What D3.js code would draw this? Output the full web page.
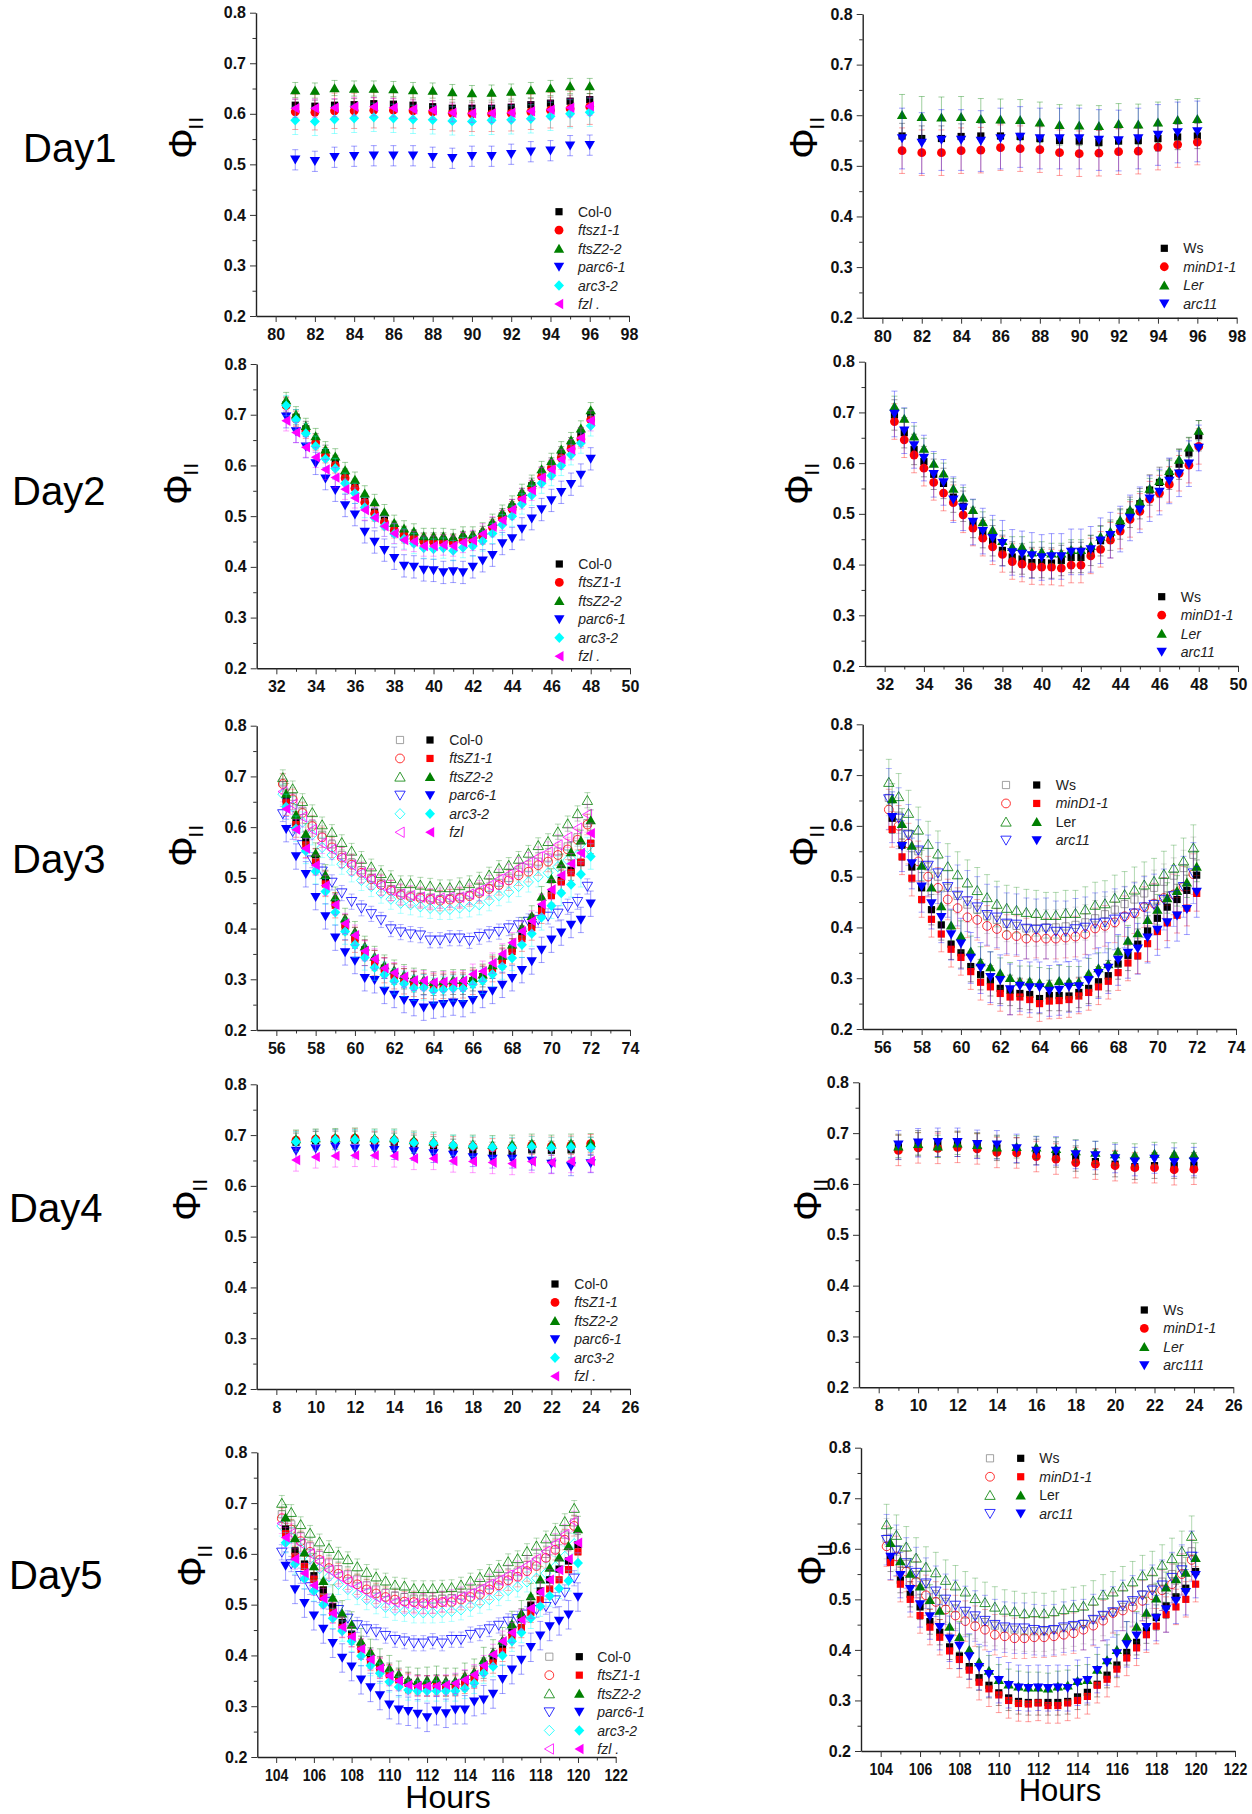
<!DOCTYPE html>
<html>
<head>
<meta charset="utf-8">
<script src="https://cdn.jsdelivr.net/npm/d3@7"></script>
<style>
  body { margin: 0; background: #ffffff; }
  svg text { font-family: Arial, "Liberation Sans", sans-serif; }
</style>
</head>
<body>
<svg id="fig" width="1252" height="1814"></svg>
<script>
// ---------------- Measurement times (hours) ----------------
const day1Hours = d3.range(81, 97);            // hourly, 81 … 96
const day2Hours = d3.range(32.5, 48.01, 0.5);  // half-hourly, 32.5 … 48
const day3Hours = d3.range(56.5, 72.01, 0.5);
const day4Hours = d3.range(9, 25);
const day5Hours = d3.range(104.5, 120.01, 0.5);
const day3OpenShift = -0.17;   // open-symbol run sampled slightly earlier
const day5OpenShift = -0.2;

// ---------------- Axis ranges / ticks ----------------
const yTicksMajor = [0.2, 0.3, 0.4, 0.5, 0.6, 0.7, 0.8];
const yTicksMinor = [0.25, 0.35, 0.45, 0.55, 0.65, 0.75];
const day1Range = [79, 98];
const day2Range = [31, 50];
const day3Range = [55, 74];
const day4Range = [7, 26];
const day5Range = [103, 122];

// ---------------- Day 1 ----------------
const d1Col0   = [0.617,0.615,0.617,0.618,0.620,0.619,0.617,0.614,0.611,0.611,0.611,0.613,0.618,0.621,0.625,0.628];
const d1FtsZ11 = [0.604,0.603,0.606,0.606,0.607,0.607,0.606,0.604,0.601,0.600,0.600,0.601,0.604,0.607,0.610,0.614];
const d1FtsZ22 = [0.647,0.646,0.651,0.650,0.650,0.649,0.647,0.646,0.643,0.641,0.642,0.644,0.647,0.651,0.655,0.655];
const d1Parc61 = [0.509,0.506,0.514,0.516,0.517,0.517,0.517,0.514,0.512,0.516,0.516,0.520,0.525,0.527,0.537,0.538];
const d1Arc32  = [0.587,0.585,0.589,0.591,0.593,0.591,0.589,0.588,0.586,0.585,0.587,0.588,0.590,0.595,0.600,0.603];
const d1Fzl    = [0.611,0.611,0.612,0.614,0.614,0.612,0.609,0.607,0.602,0.601,0.601,0.602,0.605,0.608,0.612,0.615];
const d1Ws     = [0.559,0.554,0.554,0.558,0.559,0.559,0.558,0.554,0.550,0.549,0.546,0.549,0.550,0.554,0.557,0.559];
const d1MinD11 = [0.530,0.526,0.526,0.530,0.531,0.536,0.534,0.532,0.526,0.524,0.525,0.528,0.529,0.537,0.542,0.547];
const d1Ler    = [0.601,0.597,0.596,0.597,0.593,0.592,0.591,0.586,0.581,0.580,0.579,0.583,0.582,0.586,0.591,0.593];
const d1Arc11  = [0.554,0.545,0.551,0.551,0.549,0.554,0.557,0.554,0.554,0.554,0.551,0.550,0.554,0.561,0.566,0.568];

// ---------------- Day 2 ----------------
const d2Col0   = [0.720,0.695,0.672,0.648,0.625,0.605,0.578,0.558,0.530,0.508,0.492,0.475,0.465,0.458,0.452,0.452,0.452,0.450,0.455,0.455,0.465,0.482,0.500,0.518,0.540,0.560,0.582,0.600,0.622,0.640,0.660,0.695];
const d2FtsZ11 = [0.718,0.692,0.668,0.645,0.620,0.600,0.575,0.555,0.527,0.505,0.488,0.472,0.462,0.456,0.450,0.449,0.449,0.448,0.452,0.452,0.460,0.478,0.496,0.514,0.535,0.555,0.578,0.595,0.615,0.633,0.652,0.690];
const d2FtsZ22 = [0.729,0.701,0.678,0.658,0.632,0.618,0.591,0.572,0.545,0.528,0.508,0.487,0.476,0.470,0.461,0.461,0.461,0.459,0.464,0.464,0.472,0.489,0.507,0.525,0.548,0.566,0.593,0.609,0.632,0.650,0.673,0.709];
const d2Parc61 = [0.696,0.667,0.637,0.604,0.574,0.551,0.521,0.503,0.469,0.449,0.433,0.417,0.402,0.400,0.394,0.393,0.389,0.391,0.389,0.400,0.412,0.423,0.446,0.456,0.475,0.495,0.513,0.531,0.547,0.563,0.581,0.613];
const d2Arc32  = [0.718,0.690,0.663,0.638,0.613,0.594,0.565,0.545,0.517,0.497,0.480,0.465,0.455,0.446,0.437,0.435,0.437,0.432,0.438,0.441,0.451,0.466,0.483,0.500,0.524,0.541,0.565,0.580,0.600,0.621,0.644,0.678];
const d2Fzl    = [0.688,0.665,0.636,0.616,0.592,0.576,0.553,0.536,0.512,0.497,0.480,0.466,0.453,0.450,0.441,0.441,0.443,0.441,0.448,0.452,0.465,0.479,0.492,0.513,0.534,0.551,0.576,0.592,0.612,0.631,0.654,0.688];
const d2Ws     = [0.695,0.660,0.627,0.603,0.578,0.560,0.533,0.515,0.483,0.463,0.447,0.428,0.415,0.411,0.404,0.404,0.403,0.408,0.414,0.414,0.428,0.447,0.458,0.480,0.503,0.520,0.547,0.562,0.578,0.598,0.620,0.654];
const d2MinD11 = [0.682,0.646,0.616,0.590,0.562,0.541,0.522,0.498,0.472,0.452,0.435,0.420,0.406,0.401,0.396,0.395,0.395,0.393,0.399,0.399,0.417,0.430,0.448,0.466,0.489,0.505,0.529,0.541,0.558,0.580,0.596,0.633];
const d2Ler    = [0.712,0.688,0.653,0.629,0.599,0.580,0.550,0.532,0.508,0.484,0.468,0.447,0.435,0.435,0.424,0.425,0.422,0.422,0.429,0.429,0.437,0.455,0.465,0.488,0.508,0.524,0.550,0.565,0.585,0.607,0.631,0.664];
const d2Arc11  = [0.697,0.664,0.635,0.610,0.578,0.562,0.528,0.512,0.484,0.466,0.452,0.442,0.424,0.421,0.418,0.414,0.416,0.416,0.425,0.425,0.430,0.447,0.458,0.470,0.492,0.508,0.530,0.543,0.565,0.579,0.599,0.630];

// ---------------- Day 3 (filled = one run, open = second run) ----------------
const d3Col0   = [0.655,0.610,0.572,0.538,0.495,0.450,0.408,0.382,0.358,0.337,0.322,0.310,0.301,0.295,0.290,0.288,0.289,0.290,0.290,0.297,0.305,0.322,0.340,0.360,0.385,0.408,0.440,0.470,0.495,0.515,0.530,0.568];
const d3FtsZ11 = [0.648,0.605,0.565,0.532,0.488,0.446,0.402,0.378,0.352,0.332,0.318,0.306,0.296,0.291,0.287,0.286,0.287,0.288,0.288,0.295,0.303,0.320,0.337,0.355,0.380,0.402,0.435,0.465,0.492,0.510,0.531,0.568];
const d3FtsZ22 = [0.666,0.625,0.587,0.549,0.506,0.462,0.420,0.394,0.365,0.345,0.328,0.318,0.309,0.302,0.299,0.295,0.297,0.299,0.299,0.303,0.310,0.328,0.347,0.369,0.402,0.425,0.463,0.498,0.527,0.551,0.574,0.614];
const d3Parc61 = [0.596,0.542,0.507,0.462,0.424,0.382,0.353,0.336,0.302,0.298,0.277,0.269,0.259,0.253,0.244,0.248,0.251,0.254,0.251,0.259,0.269,0.277,0.289,0.302,0.318,0.335,0.358,0.378,0.392,0.407,0.417,0.449];
const d3Arc32  = [0.640,0.597,0.553,0.513,0.473,0.432,0.394,0.368,0.343,0.323,0.309,0.296,0.291,0.283,0.284,0.278,0.280,0.282,0.282,0.290,0.297,0.310,0.325,0.342,0.368,0.390,0.422,0.445,0.470,0.487,0.507,0.542];
const d3Fzl    = [0.636,0.595,0.558,0.525,0.485,0.447,0.410,0.387,0.356,0.340,0.322,0.313,0.305,0.298,0.297,0.294,0.295,0.295,0.297,0.310,0.316,0.332,0.350,0.372,0.395,0.415,0.448,0.477,0.505,0.528,0.549,0.588];
const d3Col0Open   = [0.688,0.660,0.632,0.605,0.585,0.566,0.545,0.530,0.515,0.500,0.490,0.478,0.470,0.465,0.462,0.460,0.458,0.460,0.462,0.466,0.472,0.480,0.490,0.500,0.512,0.520,0.532,0.540,0.552,0.562,0.580,0.608];
const d3FtsZ11Open = [0.685,0.655,0.628,0.602,0.580,0.560,0.540,0.526,0.510,0.497,0.486,0.475,0.466,0.462,0.460,0.457,0.455,0.457,0.460,0.464,0.470,0.478,0.486,0.495,0.505,0.512,0.525,0.532,0.545,0.556,0.575,0.605];
const d3FtsZ22Open = [0.698,0.676,0.651,0.629,0.605,0.590,0.570,0.553,0.537,0.522,0.509,0.499,0.489,0.489,0.486,0.484,0.481,0.481,0.485,0.489,0.496,0.506,0.519,0.525,0.537,0.549,0.564,0.572,0.591,0.607,0.627,0.653];
const d3Parc61Open = [0.626,0.591,0.565,0.535,0.513,0.491,0.470,0.453,0.440,0.429,0.417,0.399,0.393,0.389,0.387,0.377,0.377,0.381,0.381,0.376,0.384,0.389,0.394,0.401,0.407,0.414,0.417,0.424,0.430,0.443,0.453,0.483];
const d3Arc32Open  = [0.665,0.640,0.610,0.585,0.560,0.545,0.527,0.512,0.495,0.483,0.470,0.458,0.450,0.447,0.443,0.440,0.438,0.438,0.441,0.443,0.447,0.455,0.465,0.472,0.483,0.492,0.502,0.510,0.522,0.535,0.545,0.560];
const d3FzlOpen    = [0.670,0.645,0.620,0.595,0.568,0.556,0.540,0.525,0.510,0.498,0.485,0.475,0.468,0.465,0.462,0.459,0.460,0.462,0.462,0.468,0.475,0.485,0.497,0.507,0.520,0.530,0.541,0.551,0.565,0.580,0.598,0.625];
const d3Ws     = [0.615,0.562,0.519,0.478,0.435,0.405,0.367,0.350,0.323,0.307,0.295,0.280,0.276,0.270,0.268,0.260,0.266,0.266,0.265,0.272,0.280,0.293,0.305,0.328,0.345,0.367,0.393,0.418,0.440,0.455,0.473,0.503];
const d3MinD11 = [0.593,0.539,0.497,0.455,0.416,0.387,0.357,0.341,0.313,0.292,0.283,0.270,0.263,0.263,0.258,0.250,0.255,0.256,0.258,0.265,0.272,0.283,0.294,0.311,0.330,0.344,0.368,0.392,0.409,0.424,0.438,0.467];
const d3Ler    = [0.653,0.604,0.561,0.522,0.479,0.442,0.404,0.383,0.353,0.332,0.322,0.310,0.301,0.294,0.294,0.291,0.289,0.295,0.293,0.293,0.309,0.320,0.328,0.353,0.374,0.389,0.415,0.435,0.458,0.472,0.489,0.520];
const d3Arc11  = [0.617,0.560,0.526,0.480,0.447,0.420,0.386,0.368,0.340,0.320,0.302,0.296,0.278,0.285,0.282,0.282,0.275,0.277,0.283,0.284,0.296,0.310,0.320,0.336,0.350,0.358,0.380,0.395,0.410,0.423,0.436,0.470];
const d3WsOpen     = [0.655,0.620,0.585,0.550,0.520,0.500,0.478,0.462,0.445,0.435,0.423,0.415,0.407,0.403,0.398,0.398,0.400,0.400,0.402,0.405,0.410,0.418,0.426,0.435,0.446,0.455,0.467,0.478,0.490,0.502,0.517,0.543];
const d3MinD11Open = [0.632,0.600,0.565,0.530,0.500,0.478,0.455,0.438,0.420,0.415,0.403,0.397,0.385,0.383,0.378,0.380,0.378,0.378,0.380,0.382,0.387,0.398,0.403,0.410,0.422,0.428,0.440,0.447,0.458,0.465,0.480,0.505];
const d3LerOpen    = [0.686,0.658,0.625,0.592,0.564,0.545,0.520,0.504,0.488,0.473,0.459,0.446,0.438,0.434,0.430,0.428,0.424,0.424,0.428,0.428,0.435,0.444,0.447,0.458,0.465,0.474,0.484,0.491,0.505,0.517,0.531,0.557];
const d3Arc11Open  = [0.653,0.615,0.582,0.552,0.522,0.507,0.480,0.463,0.452,0.440,0.425,0.420,0.408,0.406,0.398,0.396,0.398,0.392,0.392,0.397,0.400,0.408,0.410,0.416,0.420,0.428,0.440,0.445,0.455,0.462,0.480,0.507];

// ---------------- Day 4 ----------------
const d4Col0   = [0.686,0.689,0.690,0.690,0.688,0.686,0.682,0.679,0.674,0.670,0.668,0.668,0.671,0.670,0.671,0.678];
const d4FtsZ11 = [0.690,0.692,0.693,0.694,0.690,0.690,0.686,0.683,0.679,0.678,0.675,0.676,0.680,0.678,0.680,0.683];
const d4FtsZ22 = [0.692,0.694,0.695,0.696,0.694,0.694,0.690,0.688,0.682,0.682,0.681,0.682,0.684,0.682,0.684,0.685];
const d4Parc61 = [0.669,0.673,0.677,0.673,0.673,0.670,0.668,0.664,0.661,0.656,0.653,0.653,0.649,0.643,0.638,0.644];
const d4Arc32  = [0.687,0.690,0.691,0.691,0.690,0.690,0.685,0.684,0.680,0.678,0.676,0.675,0.677,0.675,0.676,0.675];
const d4Fzl    = [0.651,0.657,0.659,0.660,0.660,0.659,0.654,0.654,0.649,0.648,0.646,0.644,0.648,0.646,0.648,0.649];
const d4Ws     = [0.673,0.680,0.678,0.679,0.676,0.671,0.666,0.663,0.658,0.650,0.644,0.639,0.634,0.636,0.636,0.637];
const d4MinD11 = [0.666,0.671,0.670,0.672,0.669,0.662,0.661,0.654,0.649,0.642,0.639,0.636,0.632,0.632,0.628,0.629];
const d4Ler    = [0.674,0.679,0.674,0.680,0.677,0.672,0.673,0.672,0.669,0.665,0.662,0.659,0.657,0.660,0.659,0.658];
const d4Arc111 = [0.677,0.681,0.682,0.682,0.678,0.677,0.670,0.665,0.665,0.658,0.656,0.650,0.644,0.649,0.643,0.644];

// ---------------- Day 5 ----------------
const d5Col0   = [0.649,0.606,0.580,0.557,0.529,0.496,0.465,0.442,0.418,0.395,0.378,0.365,0.355,0.347,0.342,0.340,0.342,0.340,0.343,0.350,0.359,0.375,0.394,0.420,0.446,0.472,0.499,0.527,0.549,0.570,0.586,0.618];
const d5FtsZ11 = [0.640,0.595,0.575,0.550,0.515,0.485,0.455,0.437,0.412,0.390,0.375,0.362,0.352,0.345,0.340,0.340,0.340,0.340,0.340,0.345,0.355,0.370,0.385,0.408,0.435,0.455,0.485,0.510,0.531,0.549,0.569,0.604];
const d5FtsZ22 = [0.672,0.631,0.603,0.576,0.547,0.514,0.483,0.461,0.428,0.407,0.388,0.375,0.364,0.352,0.350,0.352,0.354,0.350,0.350,0.360,0.368,0.391,0.406,0.430,0.462,0.483,0.517,0.550,0.573,0.593,0.616,0.649];
const d5Parc61 = [0.576,0.530,0.503,0.478,0.452,0.424,0.395,0.378,0.352,0.337,0.321,0.303,0.293,0.290,0.285,0.278,0.291,0.286,0.293,0.293,0.309,0.313,0.324,0.353,0.372,0.391,0.416,0.439,0.457,0.468,0.480,0.515];
const d5Arc32  = [0.622,0.580,0.551,0.527,0.500,0.473,0.448,0.428,0.399,0.380,0.365,0.348,0.338,0.332,0.330,0.330,0.330,0.330,0.330,0.335,0.345,0.365,0.378,0.400,0.428,0.445,0.473,0.497,0.517,0.532,0.547,0.582];
const d5Fzl    = [0.632,0.590,0.562,0.538,0.512,0.483,0.456,0.437,0.413,0.392,0.375,0.360,0.350,0.342,0.340,0.340,0.340,0.342,0.345,0.352,0.362,0.380,0.402,0.428,0.445,0.470,0.493,0.525,0.549,0.568,0.590,0.622];
const d5Col0Open   = [0.678,0.658,0.635,0.615,0.598,0.583,0.570,0.560,0.550,0.538,0.530,0.523,0.518,0.515,0.512,0.512,0.510,0.512,0.513,0.518,0.523,0.530,0.538,0.548,0.556,0.565,0.578,0.585,0.600,0.618,0.638,0.662];
const d5FtsZ11Open = [0.670,0.648,0.625,0.604,0.588,0.572,0.561,0.550,0.540,0.530,0.522,0.515,0.510,0.506,0.505,0.503,0.503,0.505,0.505,0.510,0.515,0.520,0.530,0.538,0.548,0.555,0.566,0.576,0.592,0.608,0.628,0.655];
const d5FtsZ22Open = [0.700,0.682,0.658,0.641,0.624,0.611,0.598,0.589,0.575,0.564,0.555,0.547,0.539,0.537,0.532,0.532,0.532,0.533,0.534,0.539,0.547,0.554,0.564,0.572,0.585,0.591,0.605,0.616,0.630,0.645,0.664,0.690];
const d5Parc61Open = [0.603,0.580,0.557,0.535,0.519,0.506,0.490,0.473,0.460,0.452,0.446,0.439,0.431,0.428,0.424,0.424,0.428,0.424,0.431,0.431,0.441,0.444,0.452,0.459,0.467,0.472,0.481,0.490,0.496,0.509,0.524,0.552];
const d5Arc32Open  = [0.655,0.632,0.610,0.590,0.571,0.555,0.540,0.530,0.520,0.510,0.502,0.495,0.489,0.487,0.484,0.484,0.484,0.485,0.487,0.490,0.497,0.503,0.510,0.518,0.528,0.535,0.545,0.552,0.562,0.575,0.595,0.620];
const d5FzlOpen    = [0.660,0.640,0.620,0.600,0.585,0.568,0.556,0.545,0.535,0.525,0.515,0.510,0.505,0.503,0.502,0.502,0.503,0.506,0.510,0.515,0.522,0.530,0.540,0.548,0.558,0.566,0.577,0.590,0.605,0.620,0.638,0.664];
const d5Ws     = [0.580,0.538,0.510,0.485,0.456,0.435,0.406,0.388,0.367,0.345,0.330,0.315,0.305,0.298,0.296,0.296,0.296,0.296,0.298,0.307,0.316,0.332,0.350,0.370,0.395,0.415,0.438,0.464,0.487,0.505,0.522,0.555];
const d5MinD11 = [0.573,0.530,0.500,0.468,0.445,0.425,0.398,0.381,0.360,0.336,0.323,0.311,0.300,0.294,0.293,0.295,0.290,0.290,0.295,0.300,0.308,0.330,0.342,0.362,0.384,0.404,0.430,0.447,0.470,0.485,0.500,0.530];
const d5Ler    = [0.612,0.576,0.551,0.526,0.499,0.478,0.446,0.426,0.400,0.376,0.359,0.341,0.332,0.328,0.326,0.326,0.324,0.328,0.330,0.339,0.341,0.361,0.380,0.400,0.426,0.446,0.474,0.502,0.524,0.540,0.553,0.582];
const d5Arc11  = [0.584,0.548,0.520,0.490,0.466,0.445,0.422,0.408,0.387,0.366,0.352,0.340,0.330,0.325,0.324,0.325,0.324,0.325,0.324,0.335,0.340,0.360,0.375,0.393,0.411,0.428,0.445,0.463,0.480,0.497,0.514,0.548];
const d5WsOpen     = [0.620,0.598,0.570,0.548,0.530,0.510,0.495,0.482,0.470,0.462,0.455,0.448,0.442,0.440,0.437,0.437,0.437,0.440,0.443,0.447,0.452,0.460,0.468,0.475,0.485,0.495,0.510,0.522,0.535,0.550,0.565,0.595];
const d5MinD11Open = [0.605,0.585,0.555,0.535,0.508,0.495,0.480,0.468,0.457,0.447,0.440,0.430,0.427,0.423,0.423,0.425,0.425,0.427,0.430,0.433,0.440,0.448,0.458,0.473,0.478,0.485,0.497,0.508,0.518,0.530,0.550,0.578];
const d5LerOpen    = [0.648,0.627,0.604,0.582,0.564,0.553,0.538,0.527,0.515,0.502,0.494,0.485,0.479,0.476,0.472,0.474,0.472,0.476,0.480,0.484,0.487,0.497,0.509,0.515,0.525,0.535,0.547,0.555,0.568,0.581,0.595,0.625];
const d5Arc11Open  = [0.618,0.597,0.572,0.553,0.532,0.516,0.500,0.488,0.476,0.467,0.458,0.450,0.445,0.443,0.443,0.440,0.438,0.440,0.445,0.448,0.450,0.460,0.468,0.475,0.488,0.497,0.508,0.518,0.528,0.543,0.558,0.585];

// ---------------- Legend labels ----------------
const labelsD1Left  = ["Col-0", "ftsz1-1", "ftsZ2-2", "parc6-1", "arc3-2", "fzl ."];
const labelsLeft    = ["Col-0", "ftsZ1-1", "ftsZ2-2", "parc6-1", "arc3-2", "fzl ."];
const labelsD3Left  = ["Col-0", "ftsZ1-1", "ftsZ2-2", "parc6-1", "arc3-2", "fzl"];
const labelsRight   = ["Ws", "minD1-1", "Ler", "arc11"];
const labelsD4Right = ["Ws", "minD1-1", "Ler", "arc111"];
const dayLabels     = ["Day1", "Day2", "Day3", "Day4", "Day5"];

// ---------------- Styles ----------------
const C = { black: "#000000", red: "#ff0000", green: "#008000", blue: "#0000ff",
            cyan: "#00ffff", magenta: "#ff00ff", gray: "#8a8a8a" };

// Standard look of each genotype: filled marker, open marker
const LEFT_STYLE = [
  { color: C.black,   shape: "square",  openColor: C.gray, openShape: "square" },
  { color: C.red,     shape: "circle",  openColor: C.red,  openShape: "circle" },
  { color: C.green,   shape: "up",      openColor: C.green, openShape: "up" },
  { color: C.blue,    shape: "down",    openColor: C.blue, openShape: "down" },
  { color: C.cyan,    shape: "diamond", openColor: C.cyan, openShape: "diamond" },
  { color: C.magenta, shape: "left",    openColor: C.magenta, openShape: "left" }
];
const RIGHT_STYLE = LEFT_STYLE.slice(0, 4);

function shapePath(shape) {
  switch (shape) {
    case "square":  return "M-3.6,-3.6H3.6V3.6H-3.6Z";
    case "circle":  return "M4.4,0A4.4,4.4 0 1,1 -4.4,0A4.4,4.4 0 1,1 4.4,0Z";
    case "up":      return "M0,-4.8L5.2,4.2L-5.2,4.2Z";
    case "down":    return "M0,4.8L5.2,-4.2L-5.2,-4.2Z";
    case "left":    return "M-4.8,0L4.2,-5.2L4.2,5.2Z";
    case "diamond": return "M0,-5.2L5,0L0,5.2L-5,0Z";
  }
}

// ---------------- Panel layout (pixels) ----------------
const panels = [
  { day: 1, side: "L", range: day1Range, hours: day1Hours,
    box: { x0: 256, x1: 629, y0: 12.7, y1: 316 }, phi: [182.5, 144],
    legend: { sx: 559, tx: 578, y: 211.7 },
    labels: labelsD1Left, italic: [false, true, true, true, true, true], style: LEFT_STYLE,
    filled: [d1Col0, d1FtsZ11, d1FtsZ22, d1Parc61, d1Arc32, d1Fzl],
    sd: [0.012, 0.035, 0.015, 0.02, 0.028, 0.018] },
  { day: 1, side: "R", range: day1Range, hours: day1Hours,
    box: { x0: 862.7, x1: 1236.7, y0: 14, y1: 317.7 }, phi: [803, 144],
    legend: { sx: 1164.3, tx: 1183.3, y: 248.3 },
    labels: labelsRight, italic: [false, true, true, true], style: RIGHT_STYLE,
    filled: [d1Ws, d1MinD11, d1Ler, d1Arc11],
    sd: [0.025, 0.045, 0.04, 0.06] },
  { day: 2, side: "L", range: day2Range, hours: day2Hours,
    box: { x0: 256.7, x1: 630, y0: 364, y1: 668.3 }, phi: [177, 490],
    legend: { sx: 559.3, tx: 578.3, y: 564 },
    labels: labelsLeft, italic: [false, true, true, true, true, true], style: LEFT_STYLE,
    filled: [d2Col0, d2FtsZ11, d2FtsZ22, d2Parc61, d2Arc32, d2Fzl],
    sd: [0.015, 0.015, 0.015, 0.022, 0.02, 0.02] },
  { day: 2, side: "R", range: day2Range, hours: day2Hours,
    box: { x0: 865, x1: 1238, y0: 361.7, y1: 666 }, phi: [798, 490],
    legend: { sx: 1161.7, tx: 1180.7, y: 596.7 },
    labels: labelsRight, italic: [false, true, true, true], style: RIGHT_STYLE,
    filled: [d2Ws, d2MinD11, d2Ler, d2Arc11],
    sd: [0.03, 0.035, 0.02, 0.045] },
  { day: 3, side: "L", range: day3Range, hours: day3Hours, shift: day3OpenShift,
    box: { x0: 256.7, x1: 630, y0: 725.7, y1: 1030 }, phi: [182, 852],
    legend: { ox: 400, sx: 430, tx: 449.3, y: 740 },
    labels: labelsD3Left, italic: [false, true, true, true, true, true], style: LEFT_STYLE,
    filledShapes: ["square", "square", "up", "down", "diamond", "left"],
    filled: [d3Col0, d3FtsZ11, d3FtsZ22, d3Parc61, d3Arc32, d3Fzl],
    sd: [0.02, 0.025, 0.02, 0.025, 0.025, 0.02],
    open: [d3Col0Open, d3FtsZ11Open, d3FtsZ22Open, d3Parc61Open, d3Arc32Open, d3FzlOpen],
    openSd: [0.018, 0.02, 0.015, 0.015, 0.02, 0.02] },
  { day: 3, side: "R", range: day3Range, hours: day3Hours, shift: day3OpenShift,
    box: { x0: 862.7, x1: 1236, y0: 724.3, y1: 1029 }, phi: [803, 852],
    legend: { ox: 1006, sx: 1036.7, tx: 1055.7, y: 785 },
    labels: labelsRight, italic: [false, true, false, true], style: RIGHT_STYLE,
    filledShapes: ["square", "square", "up", "down"],
    filled: [d3Ws, d3MinD11, d3Ler, d3Arc11],
    sd: [0.03, 0.035, 0.03, 0.05],
    open: [d3WsOpen, d3MinD11Open, d3LerOpen, d3Arc11Open],
    openSd: [0.035, 0.04, 0.045, 0.06] },
  { day: 4, side: "L", range: day4Range, hours: day4Hours,
    box: { x0: 256.7, x1: 630, y0: 1084.3, y1: 1389 }, phi: [186, 1206],
    legend: { sx: 555, tx: 574.3, y: 1284 },
    labels: labelsLeft, italic: [false, true, true, true, true, true], style: LEFT_STYLE,
    filled: [d4Col0, d4FtsZ11, d4FtsZ22, d4Parc61, d4Arc32, d4Fzl],
    sd: [0.018, 0.018, 0.018, 0.018, 0.02, 0.022] },
  { day: 4, side: "R", range: day4Range, hours: day4Hours,
    box: { x0: 859, x1: 1233.3, y0: 1082.3, y1: 1387.3 }, phi: [807, 1206],
    legend: { sx: 1144.3, tx: 1163.3, y: 1310 },
    labels: labelsD4Right, italic: [false, true, true, true], style: RIGHT_STYLE,
    filled: [d4Ws, d4MinD11, d4Ler, d4Arc111],
    sd: [0.025, 0.03, 0.022, 0.028] },
  { day: 5, side: "L", range: day5Range, hours: day5Hours, shift: day5OpenShift,
    box: { x0: 257.3, x1: 615.7, y0: 1452.3, y1: 1757 }, phi: [191, 1572],
    legend: { ox: 549.3, sx: 579.3, tx: 597.3, y: 1656.7 },
    labels: labelsLeft, italic: [false, true, true, true, true, true], style: LEFT_STYLE,
    filledShapes: ["square", "square", "up", "down", "diamond", "left"],
    filled: [d5Col0, d5FtsZ11, d5FtsZ22, d5Parc61, d5Arc32, d5Fzl],
    sd: [0.02, 0.02, 0.025, 0.028, 0.02, 0.02],
    open: [d5Col0Open, d5FtsZ11Open, d5FtsZ22Open, d5Parc61Open, d5Arc32Open, d5FzlOpen],
    openSd: [0.015, 0.02, 0.015, 0.015, 0.02, 0.02] },
  { day: 5, side: "R", range: day5Range, hours: day5Hours, shift: day5OpenShift,
    box: { x0: 861, x1: 1235, y0: 1447.7, y1: 1751 }, phi: [811, 1571],
    legend: { ox: 990, sx: 1020.7, tx: 1039.3, y: 1458.3 },
    labels: labelsRight, italic: [false, true, false, true], style: RIGHT_STYLE,
    filledShapes: ["square", "square", "up", "down"],
    filled: [d5Ws, d5MinD11, d5Ler, d5Arc11],
    sd: [0.025, 0.035, 0.03, 0.045],
    open: [d5WsOpen, d5MinD11Open, d5LerOpen, d5Arc11Open],
    openSd: [0.04, 0.04, 0.04, 0.05] }
];

const dayLabelPos = [[23, 162], [12, 505], [12, 873], [9, 1222], [9, 1589]];
const hoursLabelPos = [{ x: 448, y: 1808, size: 32 }, { x: 1060, y: 1801, size: 31 }];

const svg = d3.select("#fig");
const LEG_STEP = 18.45;

function drawSeries(g, x, y, hours, values, sd, shape, color, open, shift) {
  const pts = values.map((v, i) => ({ h: hours[i] + (shift || 0), v }));
  // error bars
  g.append("g")
    .attr("stroke", color).attr("stroke-opacity", open ? 0.3 : 0.38)
    .attr("stroke-width", 1).attr("fill", "none")
    .selectAll("path").data(pts).join("path")
    .attr("d", d => {
      const px = x(d.h), t = y(d.v + sd), b = y(d.v - sd);
      return `M${px - 3},${t}H${px + 3}M${px},${t}V${b}M${px - 3},${b}H${px + 3}`;
    });
  // markers
  g.append("g")
    .selectAll("path").data(pts).join("path")
    .attr("d", shapePath(shape))
    .attr("transform", d => `translate(${x(d.h)},${y(d.v)})`)
    .attr("fill", open ? "none" : color)
    .attr("stroke", open ? color : "none")
    .attr("stroke-width", open ? 1 : 0)
    .attr("opacity", open ? 0.8 : 1);
}

function drawPanel(p) {
  const B = p.box;
  const x = d3.scaleLinear().domain(p.range).range([B.x0, B.x1]);
  const y = d3.scaleLinear().domain([0.2, 0.8]).range([B.y1, B.y0]);
  const g = svg.append("g");
  const [a, b] = p.range;
  const xMajor = d3.range(a + 1, b + 0.5, 2);
  const xMinor = d3.range(a + 2, b, 2);

  // minor ticks
  g.append("g").attr("transform", `translate(0,${B.y1})`)
    .call(d3.axisBottom(x).tickValues(xMinor).tickSize(3.5).tickSizeOuter(0).tickFormat(""))
    .call(s => s.select(".domain").remove());
  g.append("g").attr("transform", `translate(${B.x0},0)`)
    .call(d3.axisLeft(y).tickValues(yTicksMinor).tickSize(3.5).tickSizeOuter(0).tickFormat(""))
    .call(s => s.select(".domain").remove());

  // major ticks and labels
  const gx = g.append("g").attr("transform", `translate(0,${B.y1})`)
    .call(d3.axisBottom(x).tickValues(xMajor).tickSize(6).tickSizeOuter(0).tickPadding(6.5).tickFormat(d3.format("d")));
  const gy = g.append("g").attr("transform", `translate(${B.x0},0)`)
    .call(d3.axisLeft(y).tickValues(yTicksMajor).tickSize(6).tickSizeOuter(0).tickPadding(4).tickFormat(d3.format(".1f")));
  [gx, gy].forEach(ax => {
    ax.selectAll("text").attr("font-family", "Arial, 'Liberation Sans', sans-serif")
      .attr("font-size", 16).attr("font-weight", "bold").attr("fill", "#111");
  });
  // three-digit hour labels are set in a condensed width
  gx.selectAll("text").filter(d => d >= 100)
    .attr("textLength", 23.5).attr("lengthAdjust", "spacingAndGlyphs");
  g.selectAll(".domain").attr("stroke", "#222").attr("stroke-width", 1.4);
  g.selectAll(".tick line").attr("stroke", "#333").attr("stroke-width", 1);

  // data: open run first, filled run on top
  if (p.open) {
    p.open.forEach((vals, i) => {
      const st = p.style[i];
      drawSeries(g, x, y, p.hours, vals, p.openSd[i], st.openShape, st.openColor, true, p.shift);
    });
  }
  p.filled.forEach((vals, i) => {
    const st = p.style[i];
    const shape = p.filledShapes ? p.filledShapes[i] : st.shape;
    drawSeries(g, x, y, p.hours, vals, p.sd[i], shape, st.color, false, 0);
  });

  // legend
  const lg = g.append("g");
  p.labels.forEach((lab, i) => {
    const st = p.style[i];
    const ly = p.legend.y + i * LEG_STEP;
    if (p.open) {
      lg.append("path").attr("d", shapePath(st.openShape))
        .attr("transform", `translate(${p.legend.ox},${ly})`)
        .attr("fill", "none").attr("stroke", st.openColor).attr("stroke-width", 1).attr("opacity", 0.8);
    }
    const shape = p.filledShapes ? p.filledShapes[i] : st.shape;
    lg.append("path").attr("d", shapePath(shape))
      .attr("transform", `translate(${p.legend.sx},${ly})`)
      .attr("fill", st.color);
    lg.append("text").attr("x", p.legend.tx).attr("y", ly).attr("dy", "0.36em")
      .attr("font-size", 14).attr("fill", "#222")
      .attr("font-style", p.italic[i] ? "italic" : "normal")
      .text(lab);
  });

  // Φ_II axis title
  const [cx, cy] = p.phi;
  const t = g.append("text")
    .attr("transform", `translate(${cx + 13.6},${cy + 14.8}) rotate(-90)`)
    .attr("font-size", 38).attr("fill", "#000");
  t.append("tspan").text("Φ");
  t.append("tspan").attr("dy", 7).attr("dx", -1).attr("font-size", 20).attr("letter-spacing", 1.5).text("II");
}

panels.forEach(drawPanel);

// Day row labels
dayLabels.forEach((lab, i) => {
  svg.append("text").attr("x", dayLabelPos[i][0]).attr("y", dayLabelPos[i][1])
    .attr("font-family", "Lato, 'Open Sans', sans-serif").attr("font-size", 40)
    .attr("fill", "#000").text(lab);
});

// "Hours" under the bottom row
hoursLabelPos.forEach(h => {
  svg.append("text").attr("x", h.x).attr("y", h.y).attr("text-anchor", "middle")
    .attr("font-size", h.size).attr("fill", "#000").text("Hours");
});
</script>
</body>
</html>
